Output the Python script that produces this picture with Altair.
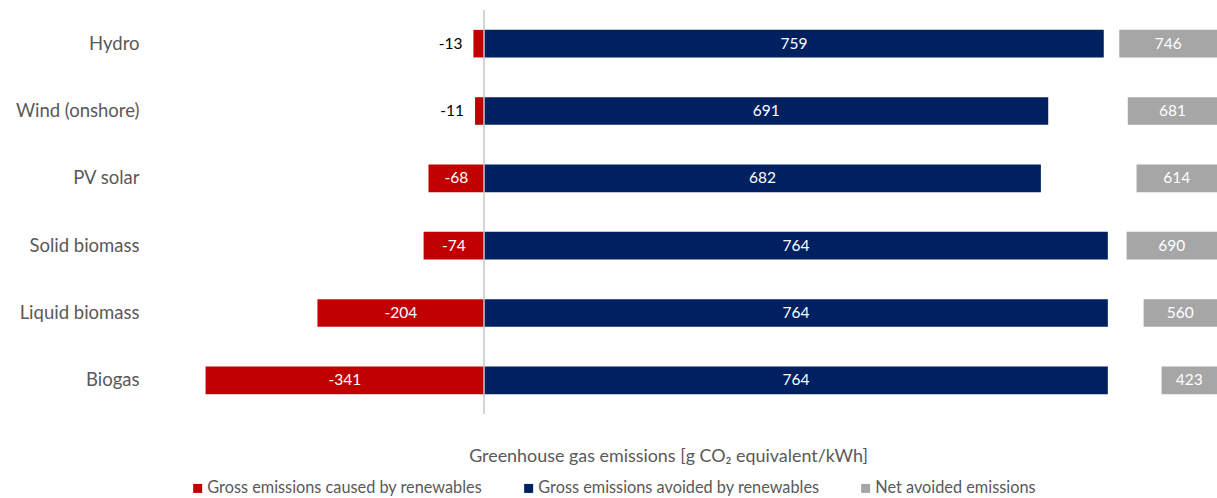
import altair as alt
import pandas as pd

# Greenhouse gas balance of renewable power sources, g CO2-eq per kWh
categories = ["Hydro", "Wind (onshore)", "PV solar", "Solid biomass", "Liquid biomass", "Biogas"]
caused = [-13, -11, -68, -74, -204, -341]
avoided = [759, 691, 682, 764, 764, 764]
net_avoided = [746, 681, 614, 690, 560, 423]

series_names = [
    "Gross emissions caused by renewables",
    "Gross emissions avoided by renewables",
    "Net avoided emissions",
]
series_colors = ["#c00000", "#002060", "#a6a6a6"]

FONT = "Lato"
GREY_TEXT = "#595959"

gross = pd.DataFrame({
    "category": categories * 2,
    "series": [series_names[0]] * len(categories) + [series_names[1]] * len(categories),
    "value": caused + avoided,
})
net = pd.DataFrame({
    "category": categories,
    "series": [series_names[2]] * len(categories),
    "value": net_avoided,
})

# identical y definition on every layer so the shared axis merges cleanly
y_enc = alt.Y(
    "category:N", sort=categories, title=None,
    scale=alt.Scale(paddingInner=0.59, paddingOuter=0.295),
    axis=alt.Axis(domain=False, ticks=False, labelPadding=11,
                  labelFont=FONT, labelFontSize=18.5, labelColor=GREY_TEXT),
)

color = alt.Color(
    "series:N",
    scale=alt.Scale(domain=series_names, range=series_colors),
    legend=alt.Legend(
        title=None, orient="none", direction="horizontal", legendX=39.5, legendY=470,
        symbolType="square", symbolSize=81, symbolStrokeWidth=0, labelOffset=1.5,
        labelFont=FONT, labelFontSize=16.3, labelColor=GREY_TEXT, labelLimit=600,
        columnPadding=38, padding=0,
    ),
)

# every gross layer uses the same fixed domain, so their positions line up
def main_scale():
    return alt.Scale(domain=[-409.1, 897.7], nice=False, zero=False)

gross_bars = alt.Chart(gross).mark_bar().encode(
    x=alt.X("value:Q", scale=main_scale(),
            axis=alt.Axis(labels=False, ticks=False, domain=False, grid=False,
                          title="Greenhouse gas emissions [g CO\u2082 equivalent/kWh]",
                          titleFont=FONT, titleFontSize=17.9, titleFontWeight="normal",
                          titleColor=GREY_TEXT, titleX=518, titleY=42,
                          titleBaseline="middle")),
    x2=alt.datum(0),
    y=y_enc,
    color=color,
)

inside_labels = alt.Chart(gross).transform_filter(
    "datum.value < -30 || datum.value > 0"
).transform_calculate(
    mid="datum.value / 2", label="'' + datum.value"
).mark_text(
    color="white", font=FONT, fontSize=15.5, baseline="middle"
).encode(
    x=alt.X("mid:Q", scale=main_scale(), axis=None),
    y=y_enc,
    text="label:N",
)

outside_labels = alt.Chart(gross).transform_filter(
    "datum.value >= -30 && datum.value < 0"
).transform_calculate(
    label="'' + datum.value"
).mark_text(
    color="black", font=FONT, fontSize=15.5, baseline="middle", align="right", dx=-11
).encode(
    x=alt.X("value:Q", scale=main_scale(), axis=None),
    y=y_enc,
    text="label:N",
)

zero_line = alt.Chart(pd.DataFrame({"baseline": [0]})).mark_rule(
    color="#c6c6c6", strokeWidth=1.5
).encode(x=alt.X("baseline:Q", scale=main_scale(), axis=None))

# Net bars: own scale, anchored at the right edge and growing leftwards
def net_scale():
    return alt.Scale(domain=[0, 8145], reverse=True, nice=False, zero=False)

net_bars = alt.Chart(net).mark_bar().encode(
    x=alt.X("value:Q", scale=net_scale(), axis=None),
    x2=alt.datum(0),
    y=y_enc,
    color=color,
)
net_labels = alt.Chart(net).transform_calculate(
    mid="datum.value / 2", label="'' + datum.value"
).mark_text(
    color="white", font=FONT, fontSize=15.5, baseline="middle"
).encode(
    x=alt.X("mid:Q", scale=net_scale(), axis=None),
    y=y_enc,
    text="label:N",
)

chart = alt.layer(
    gross_bars, zero_line, inside_labels, outside_labels, net_bars, net_labels
).resolve_scale(x="independent").properties(
    width=1067,
    height=404,
    padding={"left": 150, "top": 10, "right": 0, "bottom": 84},
    autosize=alt.AutoSizeParams(type="none"),
    background="white",
).configure_view(stroke=None)

chart.save("out.html", embed_options={"renderer": "svg", "actions": False})
